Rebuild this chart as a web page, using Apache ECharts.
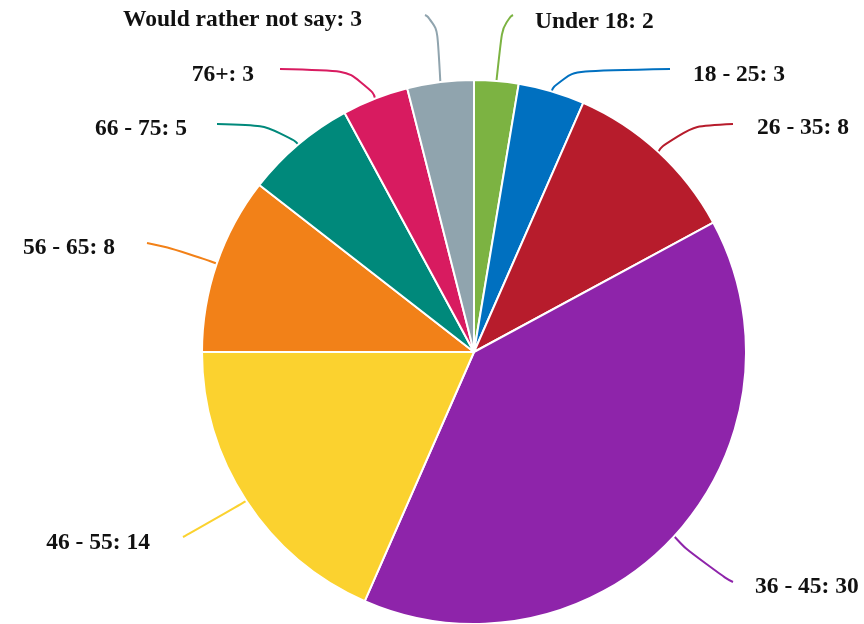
<!DOCTYPE html>
<html><head><meta charset="utf-8">
<script src="https://cdn.jsdelivr.net/npm/echarts@6/dist/echarts.min.js"></script>
<style>html,body{margin:0;padding:0;background:#fff}#c{width:864px;height:624px}</style>
</head><body><div id="c"></div>
<script>
const categories = ["Under 18","18 - 25","26 - 35","36 - 45","46 - 55","56 - 65","66 - 75","76+","Would rather not say"];
const values = [2,3,8,30,14,8,5,3,3];
const colors = ["#7cb342","#0070c0","#b71c2c","#8e24aa","#fbd22f","#f28118","#00897b","#d81b60","#90a4ae"];

// label layout (positions only, per category index)
const labelAnchor = [[535,22,'left'],[693,75,'left'],[757,128,'left'],[755,587,'left'],[150,543,'right'],[115,248,'right'],[187,129,'right'],[254,75,'right'],[362,20,'right']];
const lineCorner = [[503,20],[558,71],[672,127],[703,568],[214,520],[190,252],[283,126],[369,71],[437,20]];
const lineEnd = [[513,15],[670,69],[733,124],[733,582],[183,537],[147,243],[217,124],[280,69],[425,15]];

const chart = echarts.init(document.getElementById('c'));
chart.setOption({
  animation:false,
  color: colors,
  series:[{
    type:'pie',
    center:[474,352],
    radius:272,
    startAngle:90,
    clockwise:true,
    avoidLabelOverlap:false,
    itemStyle:{borderColor:'#fff',borderWidth:2},
    label:{
      formatter:'{b}: {c}',
      fontFamily:'Liberation Serif',
      fontWeight:'bold',
      fontSize:23.5,
      color:'#111'
    },
    labelLine:{length:30,length2:40,smooth:0.8,lineStyle:{width:2}},
    labelLayout:function(p){
      const i = p.dataIndex;
      const a = labelAnchor[i];
      const start = p.labelLinePoints ? p.labelLinePoints[0] : lineCorner[i];
      return {
        x:a[0], y:a[1], align:a[2], verticalAlign:'middle',
        labelLinePoints:[start, lineCorner[i], lineEnd[i]]
      };
    },
    data: categories.map((c,i)=>({name:c,value:values[i]}))
  }]
});
</script></body></html>
